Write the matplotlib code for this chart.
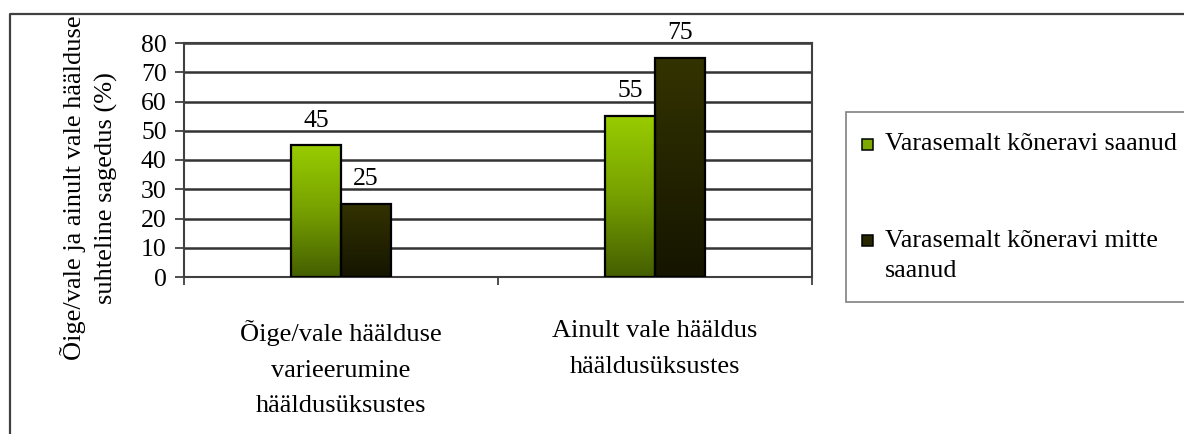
import numpy as np
import matplotlib
matplotlib.use("Agg")
import matplotlib.pyplot as plt
from matplotlib.colors import LinearSegmentedColormap
from matplotlib.patches import Rectangle
from matplotlib.lines import Line2D
from matplotlib.transforms import Bbox

plt.rcParams['font.family'] = ['Liberation Serif', 'DejaVu Serif']

# andmed
categories = ["Õige/vale häälduse\nvarieerumine\nhääldusüksustes",
              "Ainult vale hääldus\nhääldusüksustes"]
saanud = [45, 55]          # Varasemalt kõneravi saanud
mitte_saanud = [25, 75]    # Varasemalt kõneravi mitte saanud
series_names = ["Varasemalt kõneravi saanud", "Varasemalt kõneravi mitte\nsaanud"]
yticks = list(range(0, 81, 10))

W, H = 1184, 434
fig = plt.figure(figsize=(W / 100, H / 100), dpi=100)
ax = fig.add_axes([184 / W, 1 - 277 / H, 628 / W, 234 / H])

green_cmap = LinearSegmentedColormap.from_list("g", ["#445e00", "#76a000", "#99cc00"])
dark_cmap = LinearSegmentedColormap.from_list("d", ["#151500", "#333300"])

x = np.arange(len(categories))
w = 0.16
grad = np.linspace(1, 0, 256).reshape(-1, 1)

for offs, vals, cmap in [(-w / 2, saanud, green_cmap), (w / 2, mitte_saanud, dark_cmap)]:
    bars = ax.bar(x + offs, vals, w, facecolor='none', edgecolor='black', linewidth=1.6, zorder=4)
    for b in bars:
        x0, y0 = b.get_x(), b.get_y()
        im = ax.imshow(grad, cmap=cmap, extent=[x0, x0 + b.get_width(), y0, y0 + b.get_height()],
                       aspect='auto', origin='upper', zorder=3, vmin=0, vmax=1)
        im.set_clip_path(b)
    for xi, v in zip(x + offs, vals):
        ax.annotate(str(v), (xi, v), xytext=(0, 13.5), textcoords='offset points',
                    ha='center', va='baseline', fontsize=18.5)

ax.set_xlim(-0.5, 1.5)
ax.set_ylim(0, 80)
ax.set_yticks(yticks)
ax.yaxis.grid(True, color='#333333', linewidth=1.8, zorder=1)
ax.set_axisbelow(True)

ax.set_xticks([-0.5, 0.5, 1.5])
ax.set_xticklabels([])
ax.set_xticks(x, minor=True)
ax.set_xticklabels(categories, minor=True, fontsize=19)
for t in ax.get_xticklabels(minor=True):
    t.set_linespacing(1.8)
ax.tick_params(axis='x', which='minor', length=0, pad=31)
ax.tick_params(axis='x', which='major', direction='out', length=6, width=1.3, color='#404040')
ax.tick_params(axis='y', direction='out', length=6.5, width=1.3, color='#404040',
               labelsize=18.5, pad=6)

for s in ax.spines.values():
    s.set_color('#404040')
    s.set_linewidth(1.5)

# y-telje pealkiri (ülevalt ääre juures kärbitud nagu originaalis)
ylab = fig.text(89 / W, 1 - 188 / H, "Õige/vale ja ainult vale häälduse\nsuhteline sagedus (%)",
                rotation=90, ha='center', va='center', fontsize=19, linespacing=1.45)
ylab.set_clip_box(Bbox.from_extents(0, 0, W, H - 14))
ylab.set_clip_on(True)

# välimine raam
fig.add_artist(Line2D([10 / W, 10 / W, 1.01], [-0.01, 1 - 14 / H, 1 - 14 / H],
                      transform=fig.transFigure, color='#404040', linewidth=1.6))

# legend
fig.add_artist(Rectangle((846 / W, 1 - 302 / H), 0.4, 190 / H, transform=fig.transFigure,
                         facecolor='white', edgecolor='#808080', linewidth=1.2))
legend_cmaps = [green_cmap, dark_cmap]
for i, (name, cm, top, base) in enumerate(zip(series_names, legend_cmaps, [139, 235], [150, 277])):
    fig.add_artist(Rectangle((862 / W, 1 - (top + 11) / H), 11 / W, 11 / H, transform=fig.transFigure,
                             facecolor=cm(0.6), edgecolor='black', linewidth=1.1))
    fig.text(885 / W, 1 - base / H, name, ha='left', va='baseline', fontsize=18.7, linespacing=1.45)

plt.savefig('out.png', dpi=100)
